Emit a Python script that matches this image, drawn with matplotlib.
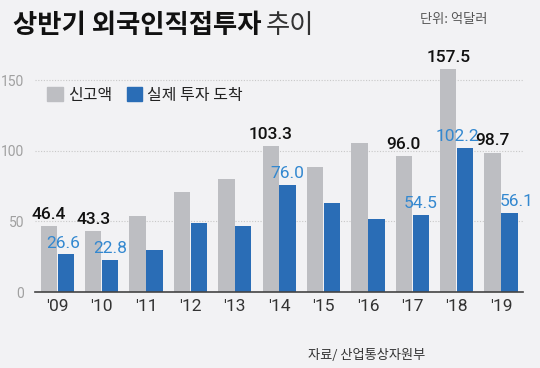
import matplotlib.pyplot as plt
import numpy as np

plt.rcParams['font.family'] = ['Noto Sans CJK KR', 'DejaVu Sans']

years = ["'09", "'10", "'11", "'12", "'13", "'14", "'15", "'16", "'17", "'18", "'19"]
reported = [46.4, 43.3, 53.7, 70.9, 80.1, 103.3, 88.6, 105.6, 96.0, 157.5, 98.7]
arrived = [26.6, 22.8, 29.7, 48.6, 46.7, 76.0, 63.2, 51.4, 54.5, 102.2, 56.1]
labeled = ["'09", "'10", "'14", "'17", "'18", "'19"]

bg = "#f2f2f4"
gray = "#bdbec2"
blue = "#2a6db6"
label_blue = "#3388d0"
num_font = "Roboto"

fig = plt.figure(figsize=(5.4, 3.68), dpi=100)
fig.patch.set_facecolor(bg)
ax = fig.add_axes([0.065, 0.2065, 0.904, 0.6145])
ax.set_facecolor(bg)

x = np.arange(len(years))
w = 0.37
ax.bar(x - 0.19, reported, width=w, color=gray, zorder=2)
ax.bar(x + 0.19, arrived, width=w, color=blue, zorder=2)

# blue labels are nudged sideways where they would collide
nudge = {"'09": -0.06, "'18": -0.18, "'19": 0.15}
for i, yr in enumerate(years):
    if yr in labeled:
        ax.text(x[i] - 0.19, reported[i] + 3, f"{reported[i]:.1f}", ha="center", va="bottom",
                fontsize=12.5, color="#111111", family=num_font, weight="medium", zorder=3)
        ax.text(x[i] + 0.19 + nudge.get(yr, 0), arrived[i] + 2.5, f"{arrived[i]:.1f}", ha="center",
                va="bottom", fontsize=12.5, color=label_blue, family=num_font, zorder=3)

ax.set_xlim(-0.5, 10.5)
ax.set_ylim(0, 160)
ax.set_yticks([0, 50, 100, 150])
ax.set_xticks(x)
ax.set_xticklabels(years, family=num_font, fontsize=12.5, color="#333333")
ax.tick_params(axis="y", length=0, pad=8, labelsize=10, labelcolor="#a0a0a0")
ax.tick_params(axis="x", length=0, pad=5)
for lab in ax.get_yticklabels():
    lab.set_family(num_font)
ax.grid(axis="y", linestyle=(0, (1, 1.5)), color="#c8c8c8", linewidth=0.8, zorder=0)
for s in ["top", "right", "left"]:
    ax.spines[s].set_visible(False)
ax.spines["bottom"].set_color("#444444")
ax.spines["bottom"].set_linewidth(1.2)

# legend
leg_handles = [plt.Rectangle((0, 0), 1, 1, color=gray), plt.Rectangle((0, 0), 1, 1, color=blue)]
leg = ax.legend(leg_handles, ["신고액", "실제 투자 도착"], loc="upper left", bbox_to_anchor=(0.005, 0.95),
                ncol=2, frameon=False, fontsize=11.5, handlelength=1.0, handleheight=1.0,
                handletextpad=0.3, columnspacing=0.9, borderaxespad=0.2)
for t in leg.get_texts():
    t.set_color("#222222")

# title
t1 = fig.text(0.024, 0.93, "상반기 외국인직접투자", fontsize=19, weight="bold", color="#111111",
              va="center", ha="left")
fig.canvas.draw()
bb = t1.get_window_extent(fig.canvas.get_renderer())
fig.text(bb.x1 / fig.bbox.width + 0.008, 0.93, "추이", fontsize=19, color="#333333",
         va="center", ha="left")
fig.text(0.902, 0.948, "단위: 억달러", fontsize=9.5, color="#555555", va="center", ha="right")
fig.text(0.787, 0.033, "자료/ 산업통상자원부", fontsize=9.5, color="#333333", va="center", ha="right")

fig.savefig("out.png", dpi=100, facecolor=bg)
